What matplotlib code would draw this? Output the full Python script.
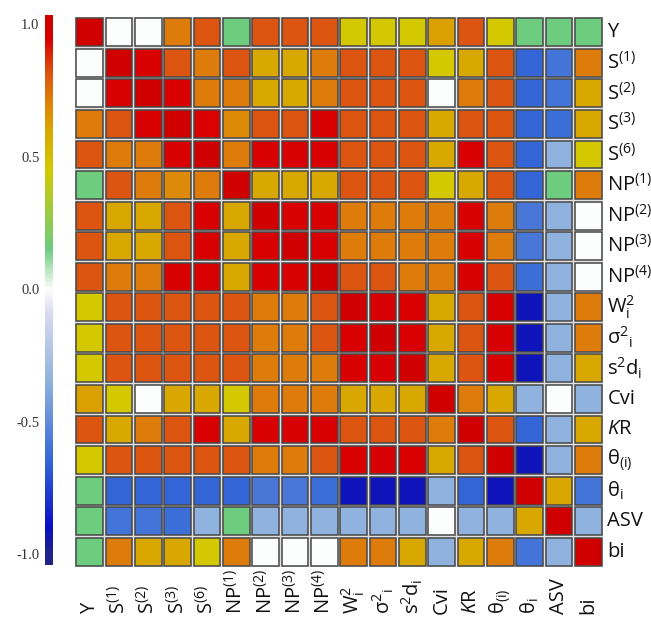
import numpy as np
import matplotlib
matplotlib.use("Agg")
import matplotlib.pyplot as plt
from matplotlib.colors import LinearSegmentedColormap, Normalize
from matplotlib.patches import Rectangle
from matplotlib.transforms import blended_transform_factory

plt.rcParams['font.family'] = ['Open Sans', 'DejaVu Sans']
plt.rcParams['mathtext.fontset'] = 'custom'
plt.rcParams['mathtext.rm'] = 'Open Sans'
plt.rcParams['mathtext.it'] = 'Open Sans:italic'
plt.rcParams['mathtext.default'] = 'regular'

# stability parameters (same order on both axes)
labels = ["Y", "S$^{(1)}$", "S$^{(2)}$", "S$^{(3)}$", "S$^{(6)}$",
          "NP$^{(1)}$", "NP$^{(2)}$", "NP$^{(3)}$", "NP$^{(4)}$",
          "W$_i^2$", "σ$^2$$_i$", "s$^2$d$_i$", "Cvi", r"$\mathit{K}$R",
          "θ$_{(i)}$", "θ$_i$", "ASV", "bi"]

# correlation coefficients, row by row
r_Y    = [1.00, 0.00, 0.00, 0.72, 0.82, 0.15, 0.82, 0.82, 0.82, 0.45, 0.45, 0.45, 0.62, 0.82, 0.45, 0.15, 0.15, 0.15]
r_S1   = [0.00, 1.00, 0.95, 0.82, 0.72, 0.82, 0.60, 0.60, 0.72, 0.82, 0.82, 0.82, 0.45, 0.60, 0.82, -0.65, -0.60, 0.72]
r_S2   = [0.00, 0.95, 1.00, 0.95, 0.72, 0.72, 0.60, 0.60, 0.72, 0.82, 0.82, 0.82, 0.00, 0.72, 0.82, -0.65, -0.60, 0.60]
r_S3   = [0.72, 0.82, 0.95, 1.00, 0.95, 0.68, 0.82, 0.82, 0.95, 0.82, 0.82, 0.82, 0.60, 0.82, 0.82, -0.65, -0.62, 0.60]
r_S6   = [0.82, 0.72, 0.72, 0.95, 1.00, 0.72, 0.95, 0.95, 0.95, 0.82, 0.82, 0.82, 0.60, 0.95, 0.82, -0.65, -0.35, 0.45]
r_NP1  = [0.15, 0.82, 0.72, 0.68, 0.72, 1.00, 0.60, 0.60, 0.60, 0.82, 0.82, 0.82, 0.45, 0.60, 0.82, -0.65, 0.15, 0.72]
r_NP2  = [0.82, 0.60, 0.60, 0.82, 0.95, 0.60, 1.00, 0.95, 0.95, 0.72, 0.72, 0.72, 0.72, 0.95, 0.72, -0.58, -0.35, 0.00]
r_NP3  = [0.82, 0.60, 0.60, 0.82, 0.95, 0.60, 0.95, 1.00, 0.95, 0.72, 0.72, 0.72, 0.72, 0.95, 0.72, -0.58, -0.35, 0.00]
r_NP4  = [0.82, 0.72, 0.72, 0.95, 0.95, 0.60, 0.95, 0.95, 1.00, 0.82, 0.82, 0.72, 0.72, 0.95, 0.82, -0.62, -0.35, 0.00]
r_W    = [0.45, 0.82, 0.82, 0.82, 0.82, 0.82, 0.72, 0.72, 0.82, 1.00, 0.95, 0.95, 0.60, 0.82, 0.95, -0.92, -0.35, 0.72]
r_sig  = [0.45, 0.82, 0.82, 0.82, 0.82, 0.82, 0.72, 0.72, 0.82, 0.95, 1.00, 0.95, 0.60, 0.82, 0.95, -0.92, -0.35, 0.72]
r_sd   = [0.45, 0.82, 0.82, 0.82, 0.82, 0.82, 0.72, 0.72, 0.72, 0.95, 0.95, 1.00, 0.60, 0.82, 0.95, -0.92, -0.35, 0.60]
r_Cvi  = [0.62, 0.45, 0.00, 0.60, 0.60, 0.45, 0.72, 0.72, 0.72, 0.60, 0.60, 0.60, 1.00, 0.72, 0.60, -0.35, 0.00, -0.35]
r_KR   = [0.82, 0.60, 0.72, 0.82, 0.95, 0.60, 0.95, 0.95, 0.95, 0.82, 0.82, 0.82, 0.72, 1.00, 0.82, -0.65, -0.35, 0.60]
r_thp  = [0.45, 0.82, 0.82, 0.82, 0.82, 0.82, 0.72, 0.72, 0.82, 0.95, 0.95, 0.95, 0.60, 0.82, 1.00, -0.92, -0.35, 0.72]
r_th   = [0.15, -0.65, -0.65, -0.65, -0.65, -0.65, -0.58, -0.58, -0.62, -0.92, -0.92, -0.92, -0.35, -0.65, -0.92, 1.00, 0.60, -0.60]
r_ASV  = [0.15, -0.60, -0.60, -0.62, -0.35, 0.15, -0.35, -0.35, -0.35, -0.35, -0.35, -0.35, 0.00, -0.35, -0.35, 0.60, 1.00, -0.35]
r_bi   = [0.15, 0.72, 0.60, 0.60, 0.45, 0.72, 0.00, 0.00, 0.00, 0.72, 0.72, 0.60, -0.35, 0.60, 0.72, -0.60, -0.35, 1.00]

corr = np.array([r_Y, r_S1, r_S2, r_S3, r_S6, r_NP1, r_NP2, r_NP3, r_NP4,
                 r_W, r_sig, r_sd, r_Cvi, r_KR, r_thp, r_th, r_ASV, r_bi])

# diverging palette: navy/blue -> white -> green/yellow -> orange -> red
nodes = [(-1.00, "#202488"), (-0.90, "#0a10c8"), (-0.65, "#3467d6"),
         (-0.35, "#8fb2df"), (-0.08, "#dcdcf0"), (0.00, "#ffffff"),
         (0.15, "#6dcc80"), (0.45, "#d4c800"), (0.60, "#d9a800"),
         (0.72, "#dd7e0a"), (0.82, "#dc5510"), (0.95, "#d90000"),
         (1.00, "#d00000")]
cmap = LinearSegmentedColormap.from_list(
    "corr", [((v + 1) / 2, c) for v, c in nodes])
norm = Normalize(-1, 1)

W, H = 651, 617
fig = plt.figure(figsize=(W / 100, H / 100), dpi=100)
ax = fig.add_axes([75 / W, 50 / H, 528 / W, 550 / H])

n = len(labels)
g = 0.045
for i in range(n):
    for j in range(n):
        ax.add_patch(Rectangle((j + g, i + g), 1 - 2 * g, 1 - 2 * g,
                               facecolor=cmap(norm(corr[i, j])),
                               edgecolor="#474747", linewidth=1.1))

ax.set_xlim(0, n)
ax.set_ylim(n, 0)
ax.set_facecolor("#e2e2e2")
ax.set_xticks([])
ax.set_yticks([])
for s in ax.spines.values():
    s.set_visible(False)

# row labels on the right
for i, lab in enumerate(labels):
    ax.text(n + 0.15, i + 0.5, lab, ha="left", va="center",
            fontsize=14.5, color="#111111")

# column labels underneath, rotated, starting from the bottom edge
tr = blended_transform_factory(ax.transData, fig.transFigure)
for j, lab in enumerate(labels):
    ax.text(j + 0.5, 3 / H, lab, rotation=90, ha="center", va="bottom",
            fontsize=14.5, color="#111111", transform=tr)

# colour bar on the left
cax = fig.add_axes([45 / W, 52 / H, 8 / W, 550 / H])
lo, hi = -1.04, 1.035
grad = np.linspace(lo, hi, 400)[:, None]
cax.imshow(grad, cmap=cmap, norm=norm, aspect="auto", origin="lower",
           extent=[0, 1, lo, hi])
cax.set_ylim(lo, hi)
cax.set_xticks([])
cax.set_yticks([-1.0, -0.5, 0.0, 0.5, 1.0])
cax.set_yticklabels(["-1.0", "-0.5", "0.0", "0.5", "1.0"],
                    fontfamily="Liberation Serif", fontsize=10.5, color="#333333")
cax.tick_params(axis="y", length=0, pad=4)
for s in cax.spines.values():
    s.set_visible(False)

fig.savefig("out.png", dpi=100)
